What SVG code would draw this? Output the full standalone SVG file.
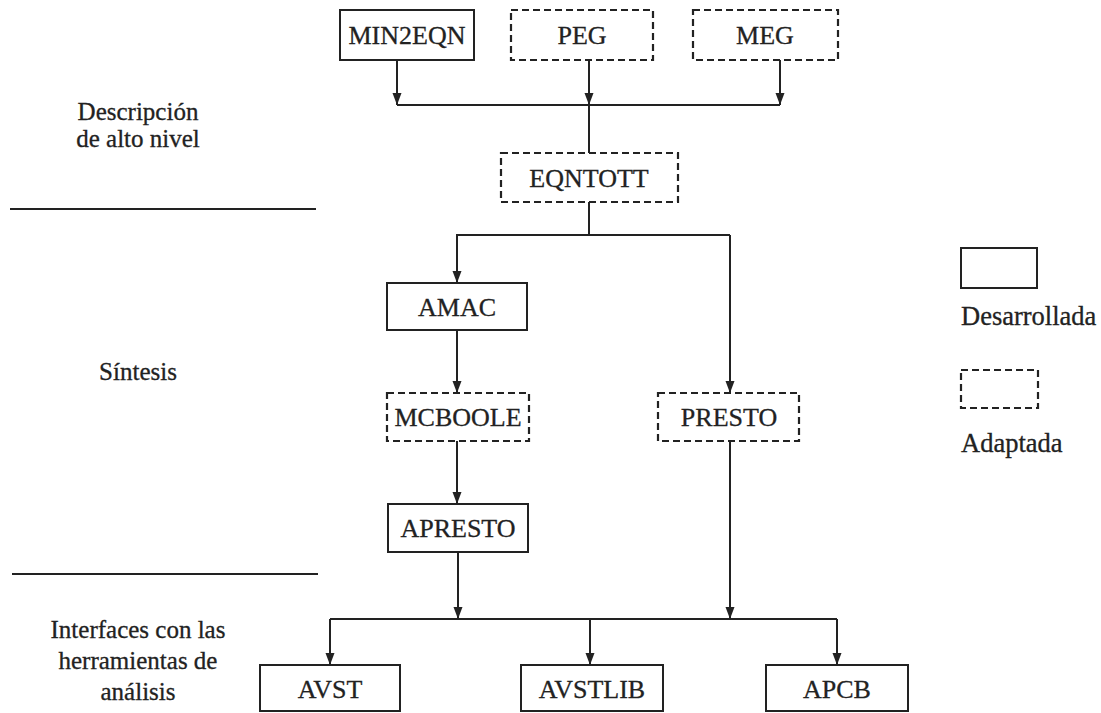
<svg xmlns="http://www.w3.org/2000/svg" width="1101" height="713" viewBox="0 0 1101 713">
<style>
  .bx { fill: none; stroke: #222; stroke-width: 2; }
  .ds { fill: none; stroke: #222; stroke-width: 2.2; stroke-dasharray: 7 4; }
  .t { font-family: "Liberation Serif", "Times New Roman", serif; font-size: 26px; fill: #222; stroke: #222; stroke-width: 0.3; text-anchor: middle; }
  .lb { font-family: "Liberation Serif", "Times New Roman", serif; font-size: 25px; fill: #222; stroke: #222; stroke-width: 0.3; text-anchor: middle; }
  .lg { font-family: "Liberation Serif", "Times New Roman", serif; font-size: 26.5px; fill: #222; stroke: #222; stroke-width: 0.3; text-anchor: start; }
  .ln { fill: none; stroke: #222; stroke-width: 2; }
</style>
<defs>
  <marker id="ad" markerUnits="userSpaceOnUse" markerWidth="12" markerHeight="16" viewBox="0 0 16 12" refX="16" refY="6" orient="auto">
    <path d="M0,0 L16,6 L0,12 Z" fill="#222"/>
  </marker>
</defs>
<rect width="1101" height="713" fill="#fff"/>

<g id="labels">
  <text class="lb" x="138" y="120">Descripción</text>
  <text class="lb" x="138" y="147">de alto nivel</text>
  <text class="lb" x="138" y="380">Síntesis</text>
  <text class="lb" x="138" y="638">Interfaces con las</text>
  <text class="lb" x="138" y="669">herramientas de</text>
  <text class="lb" x="138" y="700">análisis</text>
  <line class="ln" x1="10" y1="209" x2="316" y2="209"/>
  <line class="ln" x1="12" y1="574" x2="318" y2="574"/>
</g>

<g id="connectors">
  <path class="ln" d="M397,60 V105" marker-end="url(#ad)"/>
  <path class="ln" d="M589,60 V105" marker-end="url(#ad)"/>
  <path class="ln" d="M780,60 V105" marker-end="url(#ad)"/>
  <path class="ln" d="M397,105 H780"/>
  <path class="ln" d="M589,105 V153"/>
  <path class="ln" d="M589,202 V235"/>
  <path class="ln" d="M730,235 H457 V283" marker-end="url(#ad)"/>
  <path class="ln" d="M730,235 V393" marker-end="url(#ad)"/>
  <path class="ln" d="M457,330 V393" marker-end="url(#ad)"/>
  <path class="ln" d="M457,441 V504" marker-end="url(#ad)"/>
  <path class="ln" d="M458,552 V619" marker-end="url(#ad)"/>
  <path class="ln" d="M730,441 V619" marker-end="url(#ad)"/>
  <path class="ln" d="M330,619 H837"/>
  <path class="ln" d="M330,619 V665" marker-end="url(#ad)"/>
  <path class="ln" d="M590,619 V665" marker-end="url(#ad)"/>
  <path class="ln" d="M837,619 V665" marker-end="url(#ad)"/>
</g>

<g id="n-min2eqn"><rect class="bx" x="340" y="10" width="134" height="50"/><text class="t" x="407" y="44">MIN2EQN</text></g>
<g id="n-peg"><rect class="ds" x="511" y="10" width="142" height="50"/><text class="t" x="582" y="44">PEG</text></g>
<g id="n-meg"><rect class="ds" x="693" y="10" width="145" height="50"/><text class="t" x="765" y="44">MEG</text></g>
<g id="n-eqntott"><rect class="ds" x="501" y="153" width="177" height="49"/><text class="t" x="589" y="187">EQNTOTT</text></g>
<g id="n-amac"><rect class="bx" x="387" y="283" width="140" height="47"/><text class="t" x="457" y="316">AMAC</text></g>
<g id="n-mcboole"><rect class="ds" x="387" y="393" width="142" height="48"/><text class="t" x="458" y="426">MCBOOLE</text></g>
<g id="n-presto"><rect class="ds" x="658" y="393" width="141" height="48"/><text class="t" x="729" y="426">PRESTO</text></g>
<g id="n-apresto"><rect class="bx" x="388" y="504" width="140" height="48"/><text class="t" x="458" y="537">APRESTO</text></g>
<g id="n-avst"><rect class="bx" x="260" y="665" width="140" height="46"/><text class="t" x="330" y="698">AVST</text></g>
<g id="n-avstlib"><rect class="bx" x="521" y="665" width="142" height="46"/><text class="t" x="592" y="698">AVSTLIB</text></g>
<g id="n-apcb"><rect class="bx" x="766" y="665" width="142" height="46"/><text class="t" x="837" y="698">APCB</text></g>

<g id="legend">
  <rect class="bx" x="961" y="248" width="76" height="40"/>
  <text class="lg" x="961" y="325">Desarrollada</text>
  <rect class="ds" x="961" y="370" width="77" height="38"/>
  <text class="lg" x="961" y="452">Adaptada</text>
</g>
</svg>
